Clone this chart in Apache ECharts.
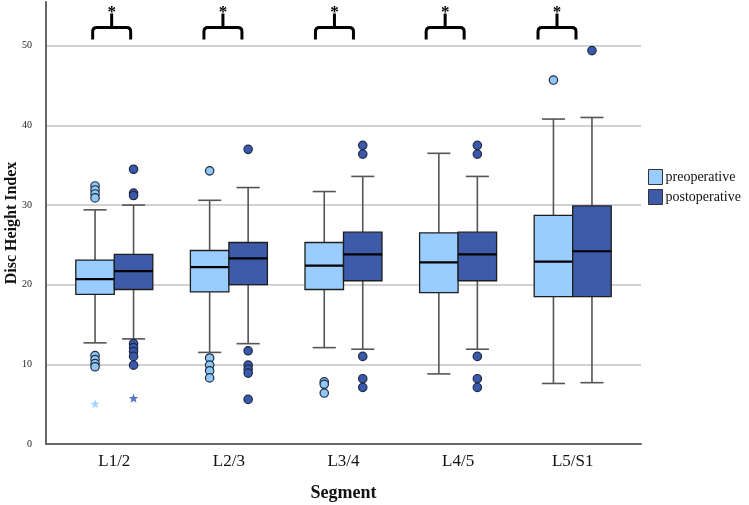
<!DOCTYPE html>
<html>
<head>
<meta charset="utf-8">
<script src="https://cdn.jsdelivr.net/npm/echarts@6/dist/echarts.min.js"></script>
<style>html,body{margin:0;padding:0;background:#fff}#c{width:749px;height:505px}</style>
</head>
<body>
<div id="c"></div>
<script>
// ---- data ----
var categories = ['L1/2', 'L2/3', 'L3/4', 'L4/5', 'L5/S1'];
var yTicks = [0, 10, 20, 30, 40, 50];
// [lower whisker, Q1, median, Q3, upper whisker]
var preBox = [
  [12.7, 18.8, 20.7, 23.1, 29.4],
  [11.5, 19.1, 22.2, 24.3, 30.6],
  [12.1, 19.4, 22.4, 25.3, 31.7],
  [8.8, 19.0, 22.8, 26.5, 36.5],
  [7.6, 18.5, 22.9, 28.7, 40.8]
];
var postBox = [
  [13.2, 19.4, 21.7, 23.8, 30.0],
  [12.6, 20.0, 23.3, 25.3, 32.2],
  [11.9, 20.5, 23.8, 26.6, 33.6],
  [11.9, 20.5, 23.8, 26.6, 33.6],
  [7.7, 18.5, 24.2, 29.9, 41.0]
];
// [category index, value]
var preOutliers = [
  [0, 32.4], [0, 31.9], [0, 31.4], [0, 30.9], [0, 11.1], [0, 10.6], [0, 10.1], [0, 9.7],
  [1, 34.3], [1, 10.8], [1, 9.9], [1, 9.2], [1, 8.3],
  [2, 7.8], [2, 7.5], [2, 6.4],
  [4, 45.7]
];
var postOutliers = [
  [0, 34.5], [0, 31.5], [0, 31.2], [0, 12.6], [0, 12.1], [0, 11.6], [0, 11.0], [0, 9.9],
  [1, 37.0], [1, 11.7], [1, 9.9], [1, 9.4], [1, 8.9], [1, 5.6],
  [2, 37.5], [2, 36.4], [2, 11.0], [2, 8.2], [2, 7.1],
  [3, 37.5], [3, 36.4], [3, 11.0], [3, 8.2], [3, 7.1],
  [4, 49.4]
];
var preExtremes = [[0, 5.0]];
var postExtremes = [[0, 5.7]];
// significance brackets: position in category units, bracket top value
var bracketPos = [-0.023, 0.948, 1.921, 2.887, 3.863];
var bracketTop = 52.3;

// ---- styles ----
var PRE = '#99CCFF', POST = '#3E5BAA';
var SERIF = '"Liberation Serif", "DejaVu Serif", serif';
var BOXFRAC = 0.336;

function boxSeries(name, box, side, color) {
  return {
    name: name, type: 'custom', xAxisIndex: 1, yAxisIndex: 1,
    itemStyle: { color: color, borderColor: '#222', borderWidth: 1 },
    encode: { x: 0, y: [1, 2, 3, 4, 5] },
    data: box.map(function (b, i) { return [i].concat(b); }),
    z: 3,
    renderItem: function (params, api) {
      var i = api.value(0);
      var bw = api.size([1, 0])[0] * BOXFRAC;
      var cx = api.coord([i, 0])[0] + side * bw / 2;
      var yMin = api.coord([i, api.value(1)])[1];
      var yQ1 = api.coord([i, api.value(2)])[1];
      var yMed = api.coord([i, api.value(3)])[1];
      var yQ3 = api.coord([i, api.value(4)])[1];
      var yMax = api.coord([i, api.value(5)])[1];
      var cap = bw * 0.3;
      var wStyle = { stroke: '#555', lineWidth: 1.6 };
      return {
        type: 'group',
        children: [
          { type: 'line', shape: { x1: cx, y1: yMin, x2: cx, y2: yQ1 }, style: wStyle },
          { type: 'line', shape: { x1: cx, y1: yQ3, x2: cx, y2: yMax }, style: wStyle },
          { type: 'line', shape: { x1: cx - cap, y1: yMin, x2: cx + cap, y2: yMin }, style: wStyle },
          { type: 'line', shape: { x1: cx - cap, y1: yMax, x2: cx + cap, y2: yMax }, style: wStyle },
          { type: 'rect', shape: { x: cx - bw / 2, y: yQ3, width: bw, height: yQ1 - yQ3 },
            style: { fill: color, stroke: '#1e1e1e', lineWidth: 1.3 } },
          { type: 'line', shape: { x1: cx - bw / 2, y1: yMed, x2: cx + bw / 2, y2: yMed },
            style: { stroke: '#000', lineWidth: 2.2 } }
        ]
      };
    }
  };
}

function outlierSeries(name, pts, side, color) {
  return {
    name: name, type: 'custom', xAxisIndex: 1, yAxisIndex: 1, z: 4,
    itemStyle: { color: color },
    encode: { x: 0, y: 1 },
    data: pts,
    renderItem: function (params, api) {
      var i = api.value(0);
      var bw = api.size([1, 0])[0] * BOXFRAC;
      var p = api.coord([i, api.value(1)]);
      return { type: 'circle', shape: { cx: p[0] + side * bw / 2, cy: p[1], r: 4.2 },
        style: { fill: color, stroke: '#1f2a44', lineWidth: 1.2 } };
    }
  };
}

function starSeries(name, pts, side, color) {
  return {
    name: name, type: 'custom', xAxisIndex: 1, yAxisIndex: 1, z: 4,
    itemStyle: { color: color },
    encode: { x: 0, y: 1 },
    data: pts,
    renderItem: function (params, api) {
      var i = api.value(0);
      var bw = api.size([1, 0])[0] * BOXFRAC;
      var p = api.coord([i, api.value(1)]);
      var cx = p[0] + side * bw / 2, cy = p[1];
      var pts2 = [];
      for (var k = 0; k < 10; k++) {
        var r = k % 2 === 0 ? 5 : 2.1;
        var a = -Math.PI / 2 + k * Math.PI / 5;
        pts2.push([cx + r * Math.cos(a), cy + r * Math.sin(a)]);
      }
      return { type: 'polygon', shape: { points: pts2 }, style: { fill: color } };
    }
  };
}

var bracketSeries = {
  name: 'sig', type: 'custom', xAxisIndex: 2, yAxisIndex: 1, z: 5, silent: true,
  data: bracketPos.map(function (x) { return [x, bracketTop]; }),
  encode: { x: 0, y: 1 },
  renderItem: function (params, api) {
    var p = api.coord([api.value(0), api.value(1)]);
    var cx = p[0], ty = p[1];
    var hw = 19, drop = 12, r = 4, stem = 14;
    var path = 'M' + (cx - hw) + ' ' + (ty + drop) +
      ' L' + (cx - hw) + ' ' + (ty + r) +
      ' Q' + (cx - hw) + ' ' + ty + ' ' + (cx - hw + r) + ' ' + ty +
      ' L' + (cx + hw - r) + ' ' + ty +
      ' Q' + (cx + hw) + ' ' + ty + ' ' + (cx + hw) + ' ' + (ty + r) +
      ' L' + (cx + hw) + ' ' + (ty + drop) +
      ' M' + cx + ' ' + ty + ' L' + cx + ' ' + (ty - stem);
    return {
      type: 'group',
      children: [
        { type: 'path', shape: { pathData: path }, style: { fill: null, stroke: '#000', lineWidth: 3 } },
        { type: 'text', style: { x: cx, y: ty - stem - 1, text: '*', fill: '#000',
          font: 'bold 17px ' + SERIF, textAlign: 'center', textVerticalAlign: 'middle' } }
      ]
    };
  }
};

var chart = echarts.init(document.getElementById('c'), null, { renderer: 'canvas' });
chart.setOption({
  animation: false,
  backgroundColor: '#fff',
  grid: [
    { left: 46, right: 108, top: 2, bottom: 61, outerBoundsMode: 'none', containLabel: false },
    { left: 57, right: 119, top: 2, bottom: 61, outerBoundsMode: 'none', containLabel: false }
  ],
  legend: {
    data: ['preoperative', 'postoperative'],
    orient: 'vertical', left: 643, top: 164, itemGap: 4,
    itemWidth: 14, itemHeight: 15, icon: 'rect',
    itemStyle: { borderColor: '#333', borderWidth: 1 },
    textStyle: { fontFamily: SERIF, fontSize: 14, color: '#111', padding: [0, 0, 0, -2] }
  },
  xAxis: [
    { type: 'value', gridIndex: 0, min: 0, max: 1,
      axisLine: { show: true, lineStyle: { color: '#666', width: 2 } },
      axisTick: { show: false }, axisLabel: { show: false }, splitLine: { show: false },
      name: 'Segment', nameLocation: 'middle', nameGap: 40, nameMoveOverlap: false,
      nameTextStyle: { fontFamily: SERIF, fontWeight: 'bold', fontSize: 18, color: '#111' } },
    { type: 'category', gridIndex: 1, data: categories, boundaryGap: true,
      axisLine: { show: false }, axisTick: { show: false }, splitLine: { show: false },
      axisLabel: { margin: 9, fontFamily: SERIF, fontSize: 17, color: '#111' } },
    { type: 'value', gridIndex: 1, min: -0.5, max: 4.5, show: false }
  ],
  yAxis: [
    { type: 'value', gridIndex: 0, min: yTicks[0], max: 55.5, interval: 10,
      axisLine: { show: true, lineStyle: { color: '#666', width: 2 } },
      axisTick: { show: false },
      axisLabel: { margin: 14, fontFamily: SERIF, fontSize: 10, color: '#222',
        formatter: function (v) { return yTicks.indexOf(v) >= 0 ? String(v) : ''; } },
      splitLine: { show: true, showMinLine: false, showMaxLine: false,
        lineStyle: { color: '#d2d2d2', width: 2 } },
      name: 'Disc Height Index', nameLocation: 'middle', nameGap: 26, nameMoveOverlap: false,
      nameTextStyle: { fontFamily: SERIF, fontWeight: 'bold', fontSize: 16, color: '#111' } },
    { type: 'value', gridIndex: 1, min: 0, max: 55.5, show: false }
  ],
  series: [
    boxSeries('preoperative', preBox, -1, PRE),
    boxSeries('postoperative', postBox, 1, POST),
    outlierSeries('preoperative', preOutliers, -1, '#8FC8F5'),
    outlierSeries('postoperative', postOutliers, 1, '#3A58AC'),
    starSeries('preoperative', preExtremes, -1, '#A8D5FF'),
    starSeries('postoperative', postExtremes, 1, '#5673C4'),
    bracketSeries
  ]
});
</script>
</body>
</html>
